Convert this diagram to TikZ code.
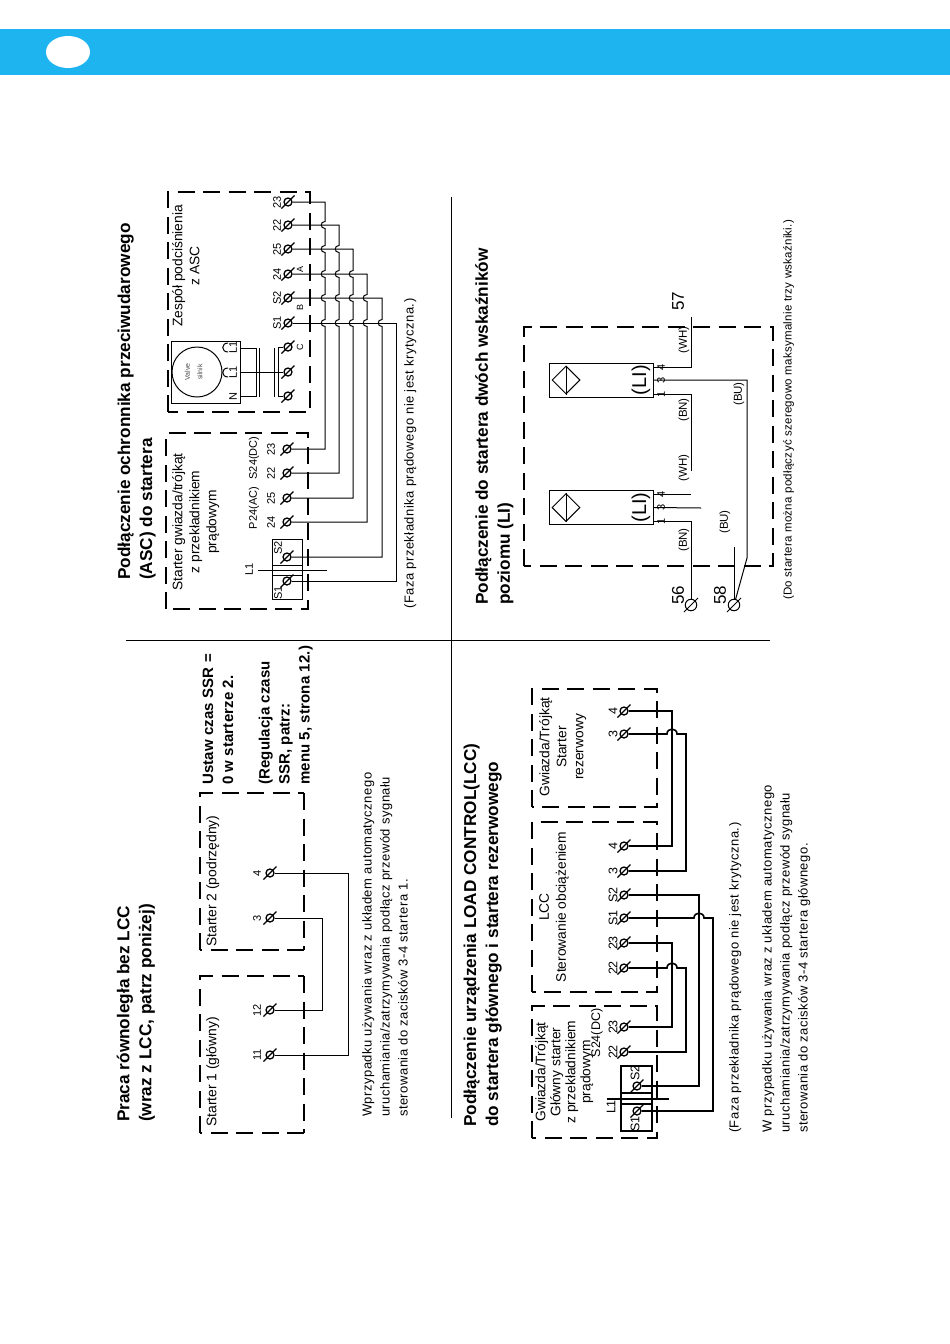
\documentclass[tikz,border=0pt]{standalone}
\usepackage{fontspec}
\setmainfont{Liberation Sans}
\usetikzlibrary{calc,shapes.geometric}
\definecolor{bandblue}{HTML}{1EB4F0}
\tikzset{
  vtext/.style={rotate=90,inner sep=0pt,anchor=north west,align=left},
  vmid/.style={rotate=90,inner sep=0pt,anchor=north,align=center},
  heading/.style={vtext,font=\bfseries\fontsize{17.2}{22}\selectfont},
  remark/.style={vtext,font=\bfseries\fontsize{15}{20}\selectfont\addfontfeature{LetterSpace=1}},
  body/.style={vtext,font=\fontsize{13}{18}\selectfont\addfontfeature{LetterSpace=3.8}},
  boxtext/.style={vmid,font=\fontsize{13.8}{17}\selectfont},
  pinlabel/.style={rotate=90,inner sep=0pt,font=\fontsize{11}{12}\selectfont},
  tinylabel/.style={rotate=90,inner sep=0pt,font=\fontsize{9}{10}\selectfont},
  wire/.style={line width=1pt},
  heavy/.style={line width=1.6pt},
  zone/.style={line width=1.1pt,dash pattern=on 17pt off 8.5pt},
  rule/.style={line width=1pt},
  termnode/.style={circle,draw,line width=1.3pt,inner sep=0pt,minimum size=8pt},
  bigterm/.style={termnode,line width=1pt,minimum size=11.5pt}
}
% terminal: name, x, y
\newcommand{\terminal}[3]{
  \node[termnode] (#1) at (#2,#3) {};
  \draw[line width=1.2pt] ($(#1.center)+(-6.5,6.5)$) -- ($(#1.center)+(6.5,-6.5)$);
}
\newcommand{\bigterminal}[3]{
  \node[bigterm] (#1) at (#2,#3) {};
  \draw[line width=1pt] ($(#1.center)+(-7,7)$) -- ($(#1.center)+(7,-7)$);
}
\begin{document}
\begin{tikzpicture}[x=1pt,y=-1pt]
\useasboundingbox (0,0) rectangle (950,1344);

% header band
\fill[bandblue] (0,29) rectangle (950,74.5);
\fill[white] (68,52) ellipse (22 and 16);

% page rules
\draw[rule] (451,197) -- (451,1118);
\draw[rule] (126,640) -- (770,640);

% headings
\node[heading] (ascTitle) at (117.5,580) {Podłączenie ochronnika przeciwudarowego\\(ASC) do startera};
\node[heading] (parTitle) at (116.5,1122) {Praca równoległa bez LCC\\(wraz z LCC, patrz poniżej)};
\node[heading] (lccTitle) at (463.5,1127) {Podłączenie urządzenia LOAD CONTROL(LCC)\\do startera głównego i startera rezerwowego};
\node[heading] (liTitle) at (475,605) {Podłączenie do startera dwóch wskaźników\\poziomu (LI)};

%-------- ASC
\draw[zone] (168,412) -- (168,192) -- (310,192) -- (310,412) -- cycle;
\draw[zone] (166,609) -- (166,433) -- (308,433) -- (308,609) -- cycle;
\node[boxtext] (ascBox) at (172,266) {Zespół podciśnienia\\z ASC};
\node[boxtext] (startBox) at (172,522) {Starter gwiazda/trójkąt\\z przekładnikiem\\prądowym};

\node[draw,line width=1pt,minimum width=69pt,minimum height=62pt,inner sep=0pt] (valveBox) at (205.5,372) {};
\node[draw,circle,line width=1pt,minimum size=50pt,inner sep=0pt] (valve) at (197,372) {};
\node[rotate=90,inner sep=0pt,align=center,text=black!70,font=\fontsize{7}{12.5}\selectfont] (valveText) at (193.5,372) {Valve\\silnik};
\node[pinlabel] (vL1a) at (233,347) {L1};
\node[pinlabel] (vL1b) at (233,372) {L1};
\node[pinlabel] (vN) at (233,397) {N};
\draw[wire] (228,343) .. controls (221,343) and (221,352) .. (228,352);
\draw[wire] (228,368) .. controls (221,368) and (221,377) .. (228,377);

\foreach \n/\l/\y in {a23/23/202,a22/22/225,a25/25/249,a24/24/274,aS2/S2/298,aS1/S1/323}{
  \terminal{\n}{288}{\y}
  \node[pinlabel] (\n l) at (277,\y) {\l};
}
\terminal{aC}{288}{347}
\terminal{aM}{288}{372}
\terminal{aN}{288}{396}
\node[tinylabel] (lblA) at (300,269) {A};
\node[tinylabel] (lblB) at (300,307) {B};
\node[tinylabel] (lblC) at (300,347) {C};

\coordinate (coilA) at (259,348);
\coordinate (coilB) at (259,397);
\coordinate (coilC) at (274,348);
\coordinate (coilD) at (274,397);
\coordinate (railA) at (278,347);
\coordinate (railB) at (278,396);
\draw[wire] (240,348) -- (256,348) -- (256,396) -- (240,396);
\draw[wire] (240,372) -- (aM);
\draw[wire] (coilA) -- (coilB);
\draw[wire] (coilC) -- (coilD);
\draw[wire] (aC) -- (railA) -- (railB) -- (aN);

\foreach \n/\l/\y in {b23/23/449,b22/22/473,b25/25/498,b24/24/522}{
  \terminal{\n}{287}{\y}
  \node[pinlabel] (\n l) at (271,\y) {\l};
}
\node[pinlabel] (bDC) at (254,458) {S24(DC)};
\node[pinlabel] (bAC) at (254,508) {P24(AC)};
\draw[wire] (272,539) rectangle (302,599);
\terminal{bS2}{287}{557}
\terminal{bS1}{287}{581}
\node[pinlabel] (bS2l) at (278,548) {S2};
\node[pinlabel] (bS1l) at (278,593) {S1};
\node[pinlabel] (bL1l) at (249,569) {L1};
\draw[wire] (258,570) -- (327,570);
\draw[line width=.7pt] (272,565) -- (302,565);
\draw[line width=.7pt] (272,575) -- (302,575);

% bus with hops, left side of each crossing
\coordinate (bus1) at (325,0);
\coordinate (bus2) at (339,0);
\coordinate (bus3) at (353,0);
\coordinate (bus4) at (367,0);
\coordinate (bus5) at (382,0);
\coordinate (bus6) at (396,0);
\draw[wire] (a23) -- (a23 -| bus1) foreach \y in {225,249,274,298,323}{
    -- (325,\y-3.5) .. controls +(-5,0) and +(-5,0) .. (325,\y+3.5)} -- (bus1 |- b23) -- (b23);
\draw[wire] (a22) -- (a22 -| bus2) foreach \y in {249,274,298,323}{
    -- (339,\y-3.5) .. controls +(-5,0) and +(-5,0) .. (339,\y+3.5)} -- (bus2 |- b22) -- (b22);
\draw[wire] (a25) -- (a25 -| bus3) foreach \y in {274,298,323}{
    -- (353,\y-3.5) .. controls +(-5,0) and +(-5,0) .. (353,\y+3.5)} -- (bus3 |- b25) -- (b25);
\draw[wire] (a24) -- (a24 -| bus4) foreach \y in {298,323}{
    -- (367,\y-3.5) .. controls +(-5,0) and +(-5,0) .. (367,\y+3.5)} -- (bus4 |- b24) -- (b24);
\draw[wire] (aS2) -- (aS2 -| bus5) foreach \y in {323}{
    -- (382,\y-3.5) .. controls +(-5,0) and +(-5,0) .. (382,\y+3.5)} -- (bus5 |- bS2) -- (bS2);
\draw[wire] (aS1) -- (aS1 -| bus6) -- (bus6 |- bS1) -- (bS1);
\node[body] (ascNote) at (404,609) {(Faza przekładnika prądowego nie jest krytyczna.)};

%-------- parallel, no LCC
\draw[zone] (200,950) -- (200,793) -- (304,793);
\draw[zone] (304,793) -- (304,950);
\draw[zone] (304,950) -- (200,950);
\draw[zone] (200,1133) -- (200,976) -- (304,976);
\draw[zone] (304,976) -- (304,1133);
\draw[zone] (304,1133) -- (200,1133);
\node[vtext,font=\fontsize{13.9}{17}\selectfont] (start1) at (206,1127) {Starter 1 (główny)};
\node[vtext,font=\fontsize{13.9}{17}\selectfont] (start2) at (206,947) {Starter 2 (podrzędny)};
\foreach \n/\l/\y in {c4/4/873,c3/3/918,c12/12/1010,c11/11/1055}{
  \terminal{\n}{270}{\y}
  \node[pinlabel] (\n l) at (257,\y) {\l};
}
\coordinate (parA) at (322,0);
\coordinate (parB) at (348,0);
\draw[wire] (c3) -- (c3 -| parA) -- (parA |- c12) -- (c12);
\draw[wire] (c4) -- (c4 -| parB) -- (parB |- c11) -- (c11);
\node[remark] (ssrA) at (202.5,785) {Ustaw czas SSR =\\0 w starterze 2.};
\node[remark] (ssrB) at (258.5,785) {(Regulacja czasu\\SSR, patrz:\\menu 5, strona 12.)};
\node[body] (parNote) at (362,1117) {Wprzypadku używania wraz z układem automatycznego\\uruchamiania/zatrzymywania podłącz przewód sygnału\\sterowania do zacisków 3-4 startera 1.};

%-------- LCC
\draw[zone] (532,807) -- (532,689) -- (657,689) -- (657,807) -- cycle;
\draw[zone] (532,992) -- (532,822) -- (657,822) -- (657,992) -- cycle;
\draw[zone] (532,1138) -- (532,1006) -- (657,1006) -- (657,1138) -- cycle;
\node[boxtext] (lccA) at (539,747) {Gwiazda/Trójkąt\\Starter\\rezerwowy};
\node[boxtext] (lccB) at (539,907) {LCC\\Sterowanie obciążeniem};
\node[boxtext,font=\fontsize{13.8}{15}\selectfont] (lccC) at (535,1072) {Gwiazda/Trójkąt\\Główny starter\\z przekładnikiem\\prądowym};
\node[pinlabel,font=\fontsize{12.5}{14}\selectfont] (lccDC) at (597,1033) {S24(DC)};
\foreach \n/\l/\y in {d4/4/711,d3/3/734,e4/4/846,e3/3/871,eS2/S2/895,eS1/S1/918,e23/23/943,e22/22/968,f23/23/1027,f22/22/1052}{
  \terminal{\n}{624}{\y}
  \node[pinlabel,font=\fontsize{12.5}{14}\selectfont] (\n l) at (613,\y) {\l};
}
\draw[heavy] (621,1066) rectangle (652,1131);
\terminal{fS2}{637}{1086}
\terminal{fS1}{637}{1111}
\node[pinlabel,font=\fontsize{12.5}{14}\selectfont] (fS2l) at (635,1073) {S2};
\node[pinlabel,font=\fontsize{12.5}{14}\selectfont] (fS1l) at (635,1124) {S1};
\node[pinlabel,font=\fontsize{12.5}{14}\selectfont] (fL1l) at (611,1107) {L1};
\draw[heavy] (607,1099) -- (669,1099);
\draw[heavy] (621,1093) -- (652,1093);
\draw[heavy] (621,1104) -- (652,1104);

\coordinate (lbusA) at (672,0);
\coordinate (lbusB) at (686,0);
\coordinate (lbusC) at (699,0);
\coordinate (lbusD) at (713,0);
\draw[heavy] (d4) -- (d4 -| lbusA) -- (lbusA |- e4) -- (e4);
\draw[heavy] (d3) -- (667,734) .. controls +(0,-6.5) and +(0,-6.5) .. (677,734) -- (d3 -| lbusB) -- (lbusB |- e3) -- (e3);
\draw[heavy] (eS2) -- (eS2 -| lbusC) -- (lbusC |- fS2) -- (fS2);
\draw[heavy] (eS1) -- (694,918) .. controls +(0,-6.5) and +(0,-6.5) .. (704,918) -- (eS1 -| lbusD) -- (lbusD |- fS1) -- (fS1);
\draw[heavy] (e23) -- (e23 -| lbusA) -- (lbusA |- f23) -- (f23);
\draw[heavy] (e22) -- (667,968) .. controls +(0,-6.5) and +(0,-6.5) .. (677,968) -- (e22 -| lbusB) -- (lbusB |- f22) -- (f22);
\node[body] (lccNote) at (729,1133) {(Faza przekładnika prądowego nie jest krytyczna.)};
\node[body] (lccNote2) at (762,1133) {W przypadku używania wraz z układem automatycznego\\uruchamiania/zatrzymywania podłącz przewód sygnału\\sterowania do zacisków 3-4 startera głównego.};

%-------- level indicators
\draw[zone] (524,566) -- (524,327) -- (773,327) -- (773,566) -- cycle;
\foreach \n/\y in {liA/380,liB/507.5}{
  \node[draw,line width=1pt,minimum width=104pt,minimum height=34pt,inner sep=0pt] (\n) at (601,\y) {};
  \node[diamond,draw,line width=1pt,minimum size=28pt,inner sep=0pt] (\n d) at (566,\y) {};
  \draw[line width=1pt] (\n d.north) -- (\n d.south);
  \node[rotate=90,inner sep=0pt,font=\fontsize{20}{22}\selectfont] (\n t) at (641,\y) {(LI)};
  \node[pinlabel] (\n pa) at (661,\y+14) {1};
  \node[pinlabel] (\n pb) at (661,\y) {3};
  \node[pinlabel] (\n pc) at (661,\y-13) {4};
}
\bigterminal{t56}{691}{605}
\bigterminal{t58}{734}{605}
\node[rotate=90,inner sep=0pt,font=\fontsize{17}{19}\selectfont] (t56l) at (678,595) {56};
\node[rotate=90,inner sep=0pt,font=\fontsize{17}{19}\selectfont] (t58l) at (720,595) {58};
\node[rotate=90,inner sep=0pt,font=\fontsize{17}{19}\selectfont] (t57l) at (678,301) {57};
\coordinate (out57) at (691,317);
\coordinate (linkA) at (691,471);
\coordinate (linkB) at (691,494);
\coordinate (linkC) at (701,508);
\coordinate (kink) at (747,558);
\coordinate (buTop) at (734,547);
\draw[wire] (liA.east |- 0,367) -- (691,367) -- (out57);
\draw[wire] (liA.east |- 0,394) -- (691,394) -- (linkA);
\draw[wire] (liA.east) -- (747,380) -- (kink) -- (t58);
\draw[wire] (liB.east |- 0,494) -- (linkB);
\draw[wire] (liB.east) -- (linkC);
\draw[wire] (liB.east |- 0,521) -- (691,521) -- (t56);
\draw[wire] (buTop) -- (t58);
\foreach \n/\t/\x/\y in {wa/WH/684/340,ba/BN/684/410,wb/WH/684/468,bb/BN/684/540,ua/BU/739/394,ub/BU/725/522}{
  \node[pinlabel,font=\fontsize{11.5}{12}\selectfont] (\n) at (\x,\y) {(\t)};
}
\node[vtext,font=\fontsize{11.5}{12}\selectfont\addfontfeature{LetterSpace=2.5}] (liNote) at (783,600) {(Do startera można podłączyć szeregowo maksymalnie trzy wskaźniki.)};
\end{tikzpicture}
\end{document}
